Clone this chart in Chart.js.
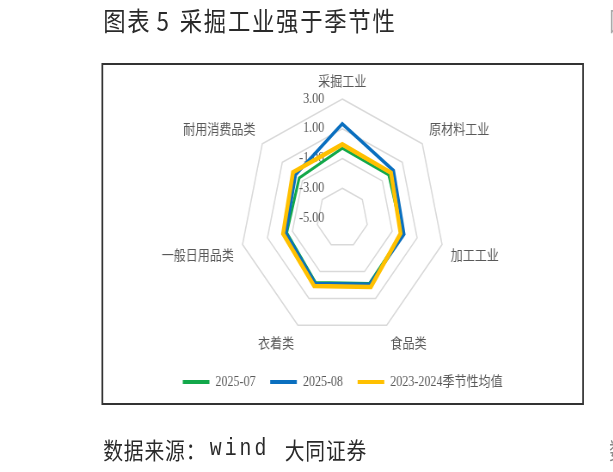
<!DOCTYPE html>
<html lang="zh">
<head>
<meta charset="utf-8">
<script src="https://cdn.jsdelivr.net/npm/chart.js@4.4.1/dist/chart.umd.min.js"></script>
<style>
  html, body { margin: 0; padding: 0; background: #fff; }
  body { width: 613px; height: 472px; overflow: hidden; position: relative; }
  /* the whole report image is squeezed horizontally, so draw wide and squeeze */
  #page { position: absolute; left: 0; top: 0; width: 713px; height: 472px; transform: scaleX(0.86); transform-origin: 0 0; }
  .t { position: absolute; white-space: pre; font-family: 'Noto Sans CJK SC', sans-serif; color: #2a2a2a; }
  .title { top: 7px; font-size: 26px; line-height: 26px; letter-spacing: 2px; }
  .src { top: 438px; font-size: 23px; line-height: 23px; letter-spacing: 1px; }
  #box { position: absolute; left: 118px; top: 63px; width: 561px; height: 342px; box-sizing: border-box; border: 2px solid #333; }
  #box canvas { display: block; }
</style>
</head>
<body>
<div id="page">
  <span class="t title" style="left:120px">图表</span>
  <span class="t title" style="left:182px">5</span>
  <span class="t title" style="left:209px">采掘工业强于季节性</span>
  <span class="t title" style="left:708px;color:#aaa">图</span>

  <div id="box"><canvas id="radarChart" width="557" height="338"></canvas></div>

  <span class="t src" style="left:120px">数据来源：</span>
  <span class="t src" style="left:244px;font-family:'Liberation Mono',monospace;letter-spacing:3.5px">wind</span>
  <span class="t src" style="left:331px">大同证券</span>
  <span class="t src" style="left:708px;color:#888">数</span>
</div>

<script>
const categories = ['采掘工业', '原材料工业', '加工工业', '食品类', '衣着类', '一般日用品类', '耐用消费品类'];
const seriesNames = ['2025-07', '2025-08', '2023-2024季节性均值'];
const jul2025 = [-0.30, -0.36, -0.20, -0.11, -0.19, -0.55, -0.69];
const aug2025 = [1.33, 0.12, -0.05, -0.06, -0.12, -0.47, -0.33];
const seasonalAvg = [-0.05, -0.13, -0.33, 0.14, 0.07, -0.25, -0.07];
const axisMin = -5;
const axisMax = 3;
const axisStep = 2;

const GREEN = '#12a84a';
const BLUE = '#0a6fbf';
const YELLOW = '#ffc000';
const GREY_TEXT = '#595959';

// Excel puts the value labels left of the vertical axis, incl. the centre one
const tickLabels = {
  id: 'tickLabels',
  beforeDatasetsDraw(chart) {
    const r = chart.scales.r;
    const ctx = chart.ctx;
    ctx.save();
    ctx.font = "14px 'Liberation Serif', serif";
    ctx.fillStyle = GREY_TEXT;
    ctx.textAlign = 'right';
    ctx.textBaseline = 'middle';
    r.ticks.forEach(t => {
      ctx.fillText(t.value.toFixed(2), r.xCenter - 21, r.yCenter - r.getDistanceFromCenterForValue(t.value));
    });
    ctx.restore();
  }
};

const lineStyle = { fill: false, pointRadius: 0, pointHoverRadius: 0, borderJoinStyle: 'miter', tension: 0 };

new Chart(document.getElementById('radarChart'), {
  type: 'radar',
  data: {
    labels: categories,
    datasets: [
      { ...lineStyle, label: seriesNames[0], data: jul2025, borderColor: GREEN, backgroundColor: GREEN, borderWidth: 3, order: 2 },
      { ...lineStyle, label: seriesNames[1], data: aug2025, borderColor: BLUE, backgroundColor: BLUE, borderWidth: 3.5, order: 1 },
      { ...lineStyle, label: seriesNames[2], data: seasonalAvg, borderColor: YELLOW, backgroundColor: YELLOW, borderWidth: 4.5, order: 0 }
    ]
  },
  options: {
    responsive: false,
    animation: false,
    layout: { padding: { top: 0, bottom: 4, left: 0, right: 0 } },
    plugins: {
      tooltip: { enabled: false },
      legend: {
        position: 'bottom',
        labels: {
          boxWidth: 31,
          boxHeight: 4,
          padding: 17,
          color: GREY_TEXT,
          font: { family: "'Liberation Serif', 'Noto Sans CJK SC', serif", size: 14 },
          generateLabels(chart) {
            const items = Chart.defaults.plugins.legend.labels.generateLabels(chart);
            items.forEach(i => { i.lineWidth = 0; i.fillStyle = i.strokeStyle; });
            // keep series order, not drawing order
            return items.sort((a, b) => a.datasetIndex - b.datasetIndex);
          }
        }
      }
    },
    scales: {
      r: {
        min: axisMin,
        max: axisMax,
        ticks: { stepSize: axisStep, display: false },
        grid: { color: '#d9d9d9', lineWidth: 1.5 },
        angleLines: { display: false },
        pointLabels: {
          padding: 10.2,
          color: GREY_TEXT,
          font: { family: "'Noto Sans CJK SC', sans-serif", size: 14 }
        }
      }
    }
  },
  plugins: [tickLabels]
});
</script>
</body>
</html>
